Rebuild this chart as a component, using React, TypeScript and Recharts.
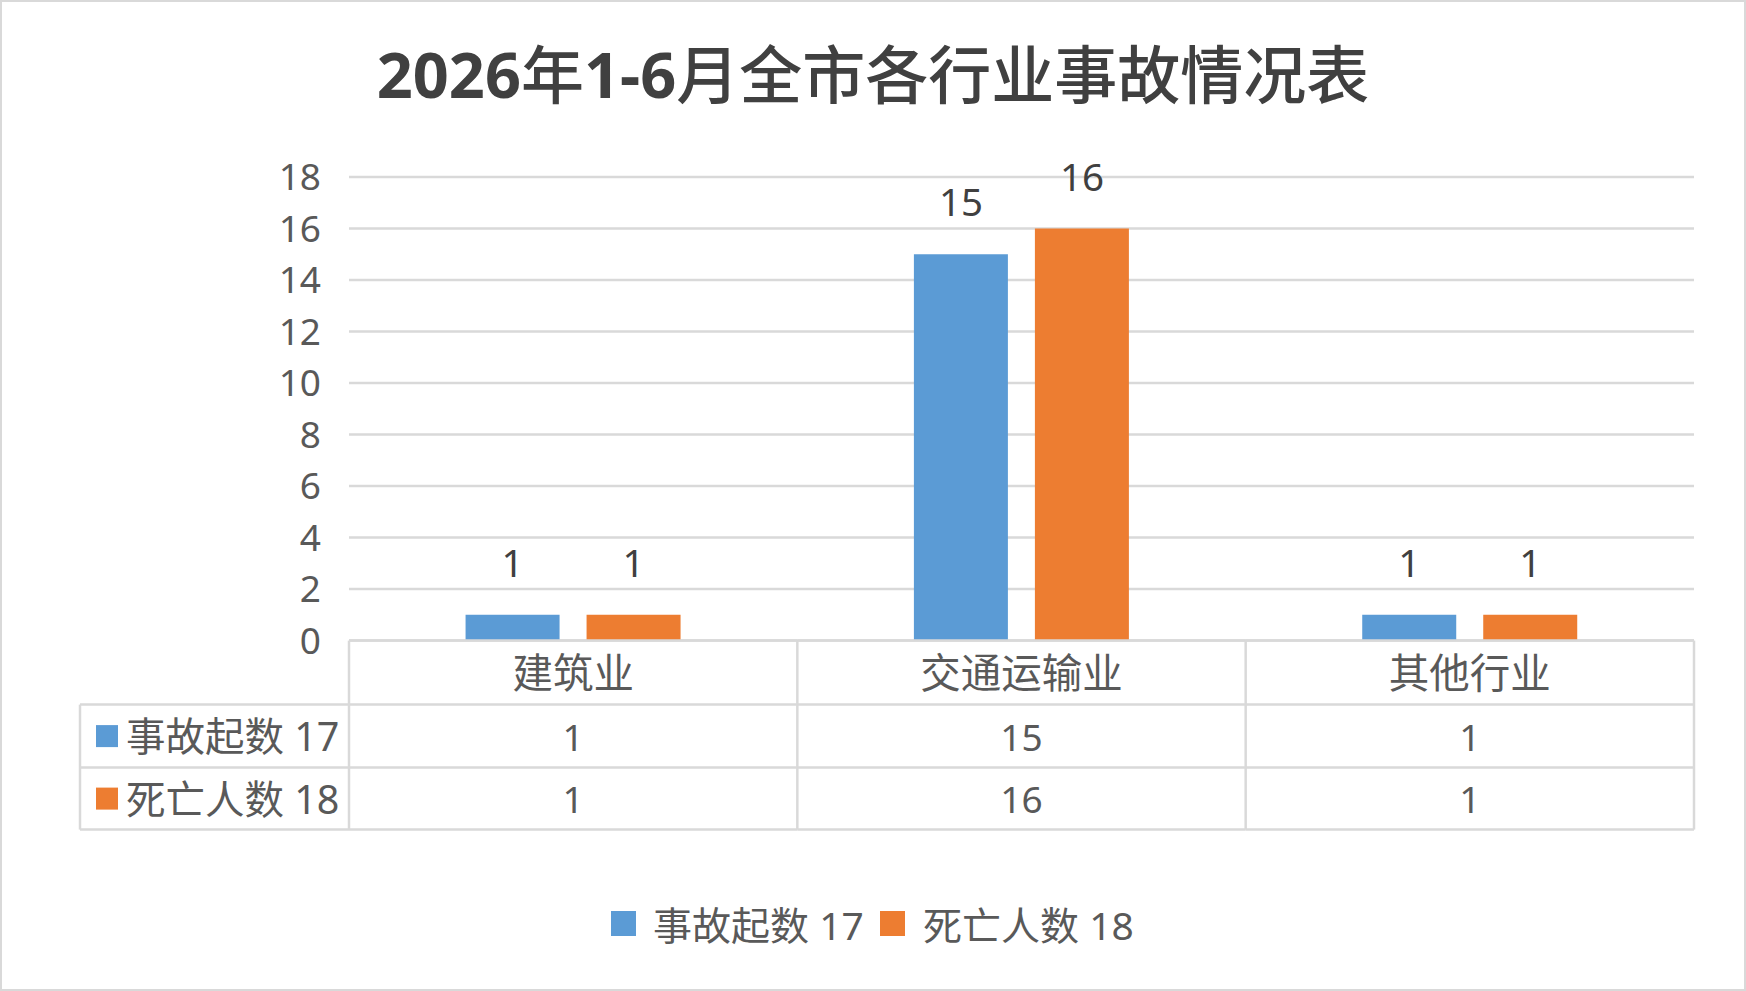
import React from 'react';
import { BarChart, Bar, XAxis, YAxis, CartesianGrid, LabelList } from 'recharts';

const titleText = '2026年1-6月全市各行业事故情况表';
const categories = ['建筑业', '交通运输业', '其他行业'];
const accidents = [1, 15, 1];
const deaths = [1, 16, 1];
const seriesNames = ['事故起数 17', '死亡人数 18'];
const seriesKeys = ['accidents', 'deaths'];
const seriesValues = [accidents, deaths];
const seriesColors = ['#5B9BD5', '#ED7D31'];
const yTicks = [0, 2, 4, 6, 8, 10, 12, 14, 16, 18];

const data = categories.map((name, i) => ({
  name,
  accidents: accidents[i],
  deaths: deaths[i],
}));

const W = 1746;
const H = 991;
const PLOT_L = 349;
const PLOT_R = 1694;
const PLOT_T = 177;
const PLOT_B = 640.6;
const XAXIS_H = 200;
const MARGIN_B = H - PLOT_B - XAXIS_H;
const BAND = (PLOT_R - PLOT_L) / categories.length;
const ROW_H = [64, 63, 62];
const TABLE_L = 80;
const GRID = '#D9D9D9';
const TEXT = '#595959';
const DARK = '#404040';
const FONT = "'Noto Sans', 'Noto Sans CJK SC', sans-serif";
const CJK = "'Noto Sans CJK SC', 'Noto Sans', sans-serif";

const TableTick = (props: any) => {
  const { x, y, index } = props;
  const i = index;
  const half = BAND / 2;
  const left = x - half;
  const right = x + half;
  const r1 = y + ROW_H[0];
  const r2 = r1 + ROW_H[1];
  const r3 = r2 + ROW_H[2];
  const ls = { stroke: GRID, strokeWidth: 2.5 };
  const txt = {
    fill: TEXT,
    fontSize: 37,
    fontFamily: FONT,
    textAnchor: 'middle' as const,
    dominantBaseline: 'central' as const,
  };
  const rowMids = [(r1 + r2) / 2, (r2 + r3) / 2];
  return (
    <g>
      <line x1={left} x2={right} y1={y} y2={y} {...ls} />
      <line x1={left} x2={right} y1={r1} y2={r1} {...ls} />
      <line x1={left} x2={right} y1={r2} y2={r2} {...ls} />
      <line x1={left} x2={right} y1={r3} y2={r3} {...ls} />
      <line x1={right} x2={right} y1={y} y2={r3} {...ls} />
      {i === 0 && (
        <g>
          <line x1={left} x2={left} y1={y} y2={r3} {...ls} />
          <line x1={TABLE_L} x2={left} y1={r1} y2={r1} {...ls} />
          <line x1={TABLE_L} x2={left} y1={r2} y2={r2} {...ls} />
          <line x1={TABLE_L} x2={left} y1={r3} y2={r3} {...ls} />
          <line x1={TABLE_L} x2={TABLE_L} y1={r1} y2={r3} {...ls} />
          {seriesNames.map((n, k) => (
            <g key={n}>
              <rect x={96} y={rowMids[k] - 11} width={22} height={22} fill={seriesColors[k]} />
              <text
                x={126}
                y={rowMids[k]}
                fill={TEXT}
                fontSize={39.5}
                fontFamily={FONT}
                textAnchor="start"
                dominantBaseline="central"
              >
                {n}
              </text>
            </g>
          ))}
        </g>
      )}
      <text x={x} y={(y + r1) / 2} {...txt} fontSize={40.5}>
        {categories[i]}
      </text>
      {seriesValues.map((vals, k) => (
        <text key={k} x={x} y={rowMids[k]} {...txt}>
          {vals[i]}
        </text>
      ))}
    </g>
  );
};

const titleParts = titleText.match(/[0-9\-]+|[^0-9\-]+/g) || [];

export default function App() {
  return (
    <div style={{ position: 'absolute', left: 0, top: 0, width: W, height: H, background: '#fff' }}>
      <BarChart
        width={W}
        height={H}
        data={data}
        margin={{ top: PLOT_T, right: W - PLOT_R, bottom: MARGIN_B, left: 0 }}
        barCategoryGap="26%"
        barGap={27}
      >
        <CartesianGrid vertical={false} stroke={GRID} strokeWidth={2.5} />
        <XAxis
          dataKey="name"
          height={XAXIS_H}
          axisLine={false}
          tickLine={false}
          tickSize={0}
          tickMargin={0}
          interval={0}
          tick={<TableTick />}
        />
        <YAxis
          width={PLOT_L}
          domain={[0, 18]}
          ticks={yTicks}
          axisLine={false}
          tickLine={false}
          tickSize={0}
          tickMargin={28}
          tick={{ fill: TEXT, fontSize: 37, fontFamily: FONT }}
        />
        {seriesKeys.map((k, idx) => (
          <Bar key={k} dataKey={k} name={seriesNames[idx]} fill={seriesColors[idx]} isAnimationActive={false}>
            <LabelList
              dataKey={k}
              position="top"
              offset={38}
              fill={DARK}
              fontSize={38.5}
              fontFamily={FONT}
            />
          </Bar>
        ))}
      </BarChart>
      <svg
        width={W}
        height={H}
        style={{ position: 'absolute', left: 0, top: 0, pointerEvents: 'none' }}
      >
        <rect x={1} y={1} width={W - 2} height={H - 2} fill="none" stroke={GRID} strokeWidth={2} />
        <text x={873} y={98} textAnchor="middle" fill={DARK} fontSize={63} fontFamily={FONT}>
          {titleParts.map((p, i) =>
            /[0-9]/.test(p) || p === '-' ? (
              <tspan key={i} fontWeight="bold" fontFamily={FONT}>
                {p}
              </tspan>
            ) : (
              <tspan key={i} fontWeight={500} fontFamily={CJK}>
                {p}
              </tspan>
            )
          )}
        </text>
        <g>
          <rect x={611} y={911} width={25} height={25} fill={seriesColors[0]} />
          <text x={653} y={924} fill={TEXT} fontSize={39} fontFamily={FONT} dominantBaseline="central">
            {seriesNames[0]}
          </text>
          <rect x={880} y={911} width={25} height={25} fill={seriesColors[1]} />
          <text x={923} y={924} fill={TEXT} fontSize={39} fontFamily={FONT} dominantBaseline="central">
            {seriesNames[1]}
          </text>
        </g>
      </svg>
    </div>
  );
}
